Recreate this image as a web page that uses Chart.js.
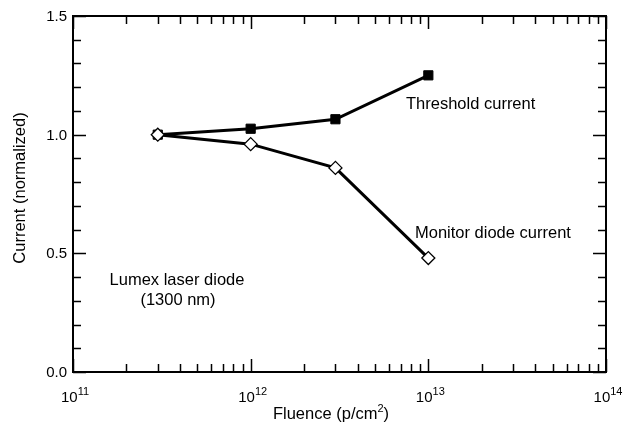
<!DOCTYPE html>
<html>
<head>
<meta charset="utf-8">
<script src="https://cdn.jsdelivr.net/npm/chart.js@4"></script>
<style>
  html, body { margin: 0; padding: 0; background: #fff; }
  canvas { display: block; }
</style>
</head>
<body>
<canvas id="canvas" width="630" height="423"></canvas>
<script>
// fluence values (p/cm2)
const fluence = [3e11, 1e12, 3e12, 1e13];
const thresholdCurrent = [1.0, 1.025, 1.065, 1.25];
const monitorCurrent = [1.0, 0.96, 0.86, 0.48];

const yTickLabels = ['0.0', '0.5', '1.0', '1.5'];
const xDecades = [11, 12, 13, 14];

const FONT = '"Liberation Sans", Arial, sans-serif';

const toPoints = (ys) => fluence.map((x, i) => ({x: x, y: ys[i]}));

const framePlugin = {
    id: 'frame',
    afterDraw(chart) {
        const ctx = chart.ctx;
        const a = chart.chartArea;
        const xs = chart.scales.x;
        const ys = chart.scales.y;
        ctx.save();
        ctx.strokeStyle = '#000';
        ctx.fillStyle = '#000';

        // inward ticks, y axis (left and right)
        ctx.lineWidth = 1.5;
        ctx.beginPath();
        for (let i = 0; i <= 15; i++) {
            const y = Math.round(ys.getPixelForValue(i / 10)) + 0.5;
            const len = (i % 5 === 0) ? 13 : 8;
            ctx.moveTo(a.left, y); ctx.lineTo(a.left + len, y);
            ctx.moveTo(a.right, y); ctx.lineTo(a.right - len, y);
        }
        // inward ticks, x axis (bottom and top)
        for (let d = 11; d <= 14; d++) {
            for (let m = 1; m <= 9; m++) {
                if (d === 14 && m > 1) break;
                const x = Math.round(xs.getPixelForValue(m * Math.pow(10, d))) + 0.5;
                const len = (m === 1) ? 13 : 8;
                ctx.moveTo(x, a.bottom); ctx.lineTo(x, a.bottom - len);
                ctx.moveTo(x, a.top); ctx.lineTo(x, a.top + len);
            }
        }
        ctx.stroke();

        // frame
        ctx.lineWidth = 2;
        ctx.strokeRect(a.left, a.top, a.right - a.left, a.bottom - a.top);

        // y tick labels
        ctx.font = '15px ' + FONT;
        ctx.textAlign = 'right';
        ctx.textBaseline = 'middle';
        yTickLabels.forEach((t) => {
            ctx.fillText(t, a.left - 6, ys.getPixelForValue(parseFloat(t)) + 1);
        });

        // x tick labels 10^n
        ctx.textAlign = 'left';
        ctx.textBaseline = 'alphabetic';
        xDecades.forEach((d) => {
            const x = xs.getPixelForValue(Math.pow(10, d));
            ctx.font = '15px ' + FONT;
            const w1 = ctx.measureText('10').width;
            ctx.font = '11px ' + FONT;
            const w2 = ctx.measureText(String(d)).width;
            const x0 = x - (w1 + w2) / 2 + 2;
            ctx.font = '15px ' + FONT;
            ctx.fillText('10', x0, 402);
            ctx.font = '11px ' + FONT;
            ctx.fillText(String(d), x0 + w1, 395);
        });

        // x axis title
        ctx.font = '16.5px ' + FONT;
        const t1 = 'Fluence (p/cm';
        const w1 = ctx.measureText(t1).width;
        ctx.font = '11px ' + FONT;
        const w2 = ctx.measureText('2').width;
        ctx.font = '16.5px ' + FONT;
        const w3 = ctx.measureText(')').width;
        let tx = 331 - (w1 + w2 + w3) / 2;
        ctx.fillText(t1, tx, 419);
        ctx.font = '11px ' + FONT;
        ctx.fillText('2', tx + w1, 412);
        ctx.font = '16.5px ' + FONT;
        ctx.fillText(')', tx + w1 + w2, 419);

        // y axis title
        ctx.save();
        ctx.translate(20, 188);
        ctx.rotate(-Math.PI / 2);
        ctx.textAlign = 'center';
        ctx.textBaseline = 'middle';
        ctx.fillText('Current (normalized)', 0, 0);
        ctx.restore();

        // annotations
        ctx.textAlign = 'left';
        ctx.textBaseline = 'middle';
        ctx.fillText('Threshold current', 406, 104);
        ctx.fillText('Monitor diode current', 415, 233);
        ctx.textAlign = 'center';
        ctx.fillText('Lumex laser diode', 177, 280);
        ctx.fillText('(1300 nm)', 178, 300);

        ctx.restore();
    }
};

new Chart(document.getElementById('canvas').getContext('2d'), {
    type: 'line',
    data: {
        datasets: [{
            label: 'Monitor diode current',
            data: toPoints(monitorCurrent),
            borderColor: '#000',
            borderWidth: 3,
            pointStyle: 'rectRot',
            pointRadius: 6.5,
            pointBorderWidth: 1.3,
            pointBackgroundColor: '#fff',
            pointBorderColor: '#000',
            tension: 0
        }, {
            label: 'Threshold current',
            data: toPoints(thresholdCurrent),
            borderColor: '#000',
            borderWidth: 3,
            pointStyle: 'rect',
            pointRadius: 6.5,
            pointBorderWidth: 1,
            pointBackgroundColor: '#000',
            pointBorderColor: '#000',
            tension: 0
        }]
    },
    options: {
        responsive: false,
        animation: false,
        events: [],
        layout: {padding: {left: 73, right: 24, top: 16, bottom: 51}},
        plugins: {
            legend: {display: false},
            tooltip: {enabled: false}
        },
        scales: {
            x: {type: 'logarithmic', min: 1e11, max: 1e14, display: false},
            y: {type: 'linear', min: 0, max: 1.5, display: false}
        }
    },
    plugins: [framePlugin]
});
</script>
</body>
</html>
